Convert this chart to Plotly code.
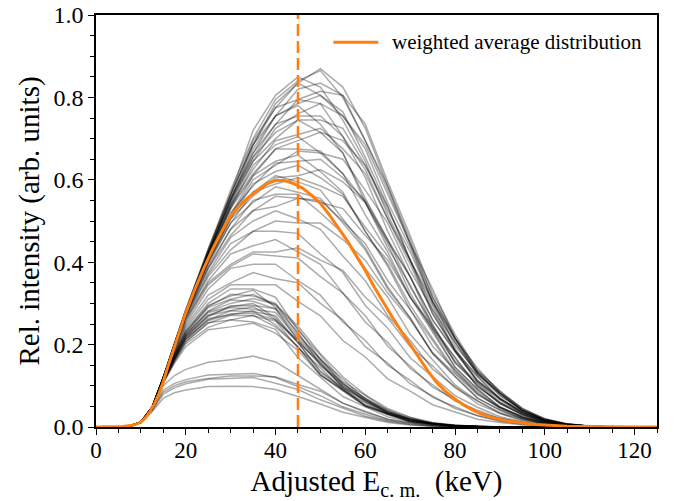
import plotly.graph_objects as go

# energy grid (keV) for the individual distributions
E_GRID = [0, 5, 7.5, 10, 12.5, 15, 17.5, 20, 25, 30, 35, 40, 45, 50, 55, 60, 65, 70, 75, 80, 85, 90, 95, 100,
          105, 110, 115, 120, 125]

# upper group of individual distributions
U1 = [0, 0, 0.002, 0.012, 0.048, 0.12, 0.2, 0.28, 0.43, 0.575, 0.70, 0.795, 0.84, 0.865, 0.80, 0.695, 0.575, 0.445, 0.30, 0.205, 0.128, 0.082, 0.04, 0.016, 0.006, 0.002, 0, 0, 0]
U2 = [0, 0, 0.002, 0.012, 0.049, 0.121, 0.204, 0.285, 0.432, 0.565, 0.72, 0.805, 0.85, 0.825, 0.745, 0.645, 0.515, 0.405, 0.275, 0.185, 0.108, 0.066, 0.032, 0.013, 0.005, 0.001, 0, 0, 0]
U3 = [0, 0, 0.002, 0.011, 0.047, 0.118, 0.2, 0.28, 0.425, 0.56, 0.695, 0.775, 0.835, 0.805, 0.765, 0.655, 0.535, 0.405, 0.295, 0.185, 0.122, 0.068, 0.036, 0.015, 0.005, 0.002, 0, 0, 0]
U4 = [0, 0, 0.002, 0.012, 0.048, 0.12, 0.201, 0.28, 0.42, 0.555, 0.665, 0.755, 0.785, 0.805, 0.755, 0.675, 0.545, 0.435, 0.305, 0.215, 0.13, 0.082, 0.04, 0.018, 0.007, 0.002, 0, 0, 0]
U5 = [0, 0, 0.002, 0.012, 0.048, 0.121, 0.203, 0.283, 0.425, 0.55, 0.685, 0.755, 0.78, 0.735, 0.665, 0.545, 0.445, 0.325, 0.235, 0.145, 0.092, 0.048, 0.026, 0.01, 0.004, 0.001, 0, 0, 0]
U6 = [0, 0, 0.002, 0.011, 0.047, 0.119, 0.2, 0.279, 0.42, 0.555, 0.655, 0.735, 0.755, 0.755, 0.705, 0.625, 0.505, 0.395, 0.275, 0.19, 0.112, 0.07, 0.035, 0.015, 0.006, 0.002, 0, 0, 0]
U7 = [0, 0, 0.002, 0.012, 0.048, 0.12, 0.201, 0.28, 0.42, 0.54, 0.655, 0.715, 0.745, 0.715, 0.665, 0.555, 0.455, 0.34, 0.25, 0.155, 0.103, 0.056, 0.031, 0.012, 0.004, 0.001, 0, 0, 0]
U8 = [0, 0, 0.002, 0.011, 0.047, 0.118, 0.198, 0.276, 0.415, 0.54, 0.625, 0.695, 0.71, 0.725, 0.675, 0.615, 0.505, 0.405, 0.285, 0.205, 0.127, 0.077, 0.039, 0.018, 0.007, 0.002, 0, 0, 0]
U9 = [0, 0, 0.002, 0.012, 0.048, 0.12, 0.2, 0.28, 0.415, 0.53, 0.635, 0.685, 0.705, 0.665, 0.615, 0.515, 0.425, 0.315, 0.23, 0.145, 0.092, 0.049, 0.025, 0.01, 0.004, 0.001, 0, 0, 0]
U10 = [0, 0, 0.002, 0.012, 0.047, 0.119, 0.199, 0.278, 0.41, 0.535, 0.615, 0.675, 0.675, 0.67, 0.615, 0.545, 0.435, 0.345, 0.24, 0.168, 0.098, 0.059, 0.03, 0.012, 0.005, 0.001, 0, 0, 0]
U11 = [0, 0, 0.002, 0.011, 0.048, 0.12, 0.2, 0.279, 0.41, 0.515, 0.61, 0.645, 0.66, 0.62, 0.57, 0.475, 0.39, 0.285, 0.21, 0.132, 0.082, 0.044, 0.022, 0.009, 0.003, 0.001, 0, 0, 0]
U12 = [0, 0, 0.002, 0.012, 0.047, 0.118, 0.197, 0.275, 0.405, 0.52, 0.585, 0.64, 0.645, 0.65, 0.605, 0.55, 0.455, 0.365, 0.26, 0.183, 0.113, 0.068, 0.035, 0.015, 0.006, 0.002, 0, 0, 0]
U13 = [0, 0, 0.002, 0.012, 0.048, 0.12, 0.199, 0.277, 0.405, 0.505, 0.59, 0.62, 0.635, 0.605, 0.565, 0.475, 0.395, 0.295, 0.215, 0.137, 0.087, 0.047, 0.024, 0.01, 0.004, 0.001, 0, 0, 0]
U14 = [0, 0, 0.002, 0.011, 0.047, 0.119, 0.198, 0.276, 0.40, 0.51, 0.57, 0.61, 0.595, 0.575, 0.505, 0.435, 0.34, 0.265, 0.177, 0.122, 0.07, 0.041, 0.02, 0.008, 0.003, 0.001, 0, 0, 0]
U15 = [0, 0, 0.002, 0.012, 0.047, 0.118, 0.197, 0.274, 0.40, 0.495, 0.57, 0.59, 0.605, 0.585, 0.56, 0.485, 0.415, 0.315, 0.238, 0.157, 0.102, 0.057, 0.03, 0.012, 0.005, 0.001, 0, 0, 0]
U16 = [0, 0, 0.002, 0.011, 0.048, 0.12, 0.198, 0.275, 0.395, 0.495, 0.545, 0.583, 0.57, 0.555, 0.495, 0.43, 0.335, 0.265, 0.18, 0.123, 0.07, 0.041, 0.02, 0.008, 0.003, 0.001, 0, 0, 0]
U17 = [0, 0, 0.002, 0.012, 0.047, 0.119, 0.197, 0.274, 0.39, 0.48, 0.55, 0.565, 0.565, 0.52, 0.47, 0.385, 0.315, 0.225, 0.163, 0.102, 0.063, 0.033, 0.017, 0.007, 0.002, 0, 0, 0, 0]
U18 = [0, 0, 0.002, 0.011, 0.046, 0.117, 0.194, 0.27, 0.385, 0.48, 0.525, 0.56, 0.555, 0.55, 0.5, 0.445, 0.355, 0.285, 0.196, 0.138, 0.081, 0.048, 0.024, 0.01, 0.004, 0.001, 0, 0, 0]
U19 = [0, 0, 0.002, 0.011, 0.047, 0.118, 0.199, 0.278, 0.42, 0.55, 0.675, 0.755, 0.82, 0.835, 0.805, 0.695, 0.585, 0.445, 0.335, 0.215, 0.143, 0.083, 0.046, 0.018, 0.007, 0.002, 0, 0, 0]
U20 = [0, 0, 0.002, 0.012, 0.048, 0.12, 0.202, 0.282, 0.425, 0.565, 0.685, 0.785, 0.835, 0.87, 0.825, 0.725, 0.585, 0.455, 0.315, 0.215, 0.132, 0.081, 0.04, 0.016, 0.006, 0.002, 0, 0, 0]
U21 = [0, 0, 0.002, 0.011, 0.047, 0.118, 0.199, 0.278, 0.42, 0.545, 0.665, 0.735, 0.795, 0.815, 0.805, 0.735, 0.595, 0.465, 0.325, 0.225, 0.137, 0.087, 0.044, 0.02, 0.008, 0.003, 0, 0, 0]
U22 = [0, 0, 0.002, 0.012, 0.048, 0.119, 0.2, 0.279, 0.42, 0.55, 0.645, 0.725, 0.76, 0.785, 0.755, 0.685, 0.565, 0.445, 0.315, 0.218, 0.137, 0.087, 0.044, 0.02, 0.007, 0.002, 0, 0, 0]
U23 = [0, 0, 0.002, 0.011, 0.047, 0.118, 0.198, 0.277, 0.415, 0.535, 0.645, 0.70, 0.745, 0.745, 0.725, 0.635, 0.535, 0.405, 0.305, 0.197, 0.133, 0.076, 0.041, 0.017, 0.006, 0.002, 0, 0, 0]
U24 = [0, 0, 0.002, 0.012, 0.047, 0.118, 0.197, 0.276, 0.41, 0.53, 0.61, 0.675, 0.695, 0.715, 0.695, 0.635, 0.525, 0.425, 0.305, 0.213, 0.132, 0.082, 0.041, 0.018, 0.007, 0.002, 0, 0, 0]
U25 = [0, 0, 0.002, 0.011, 0.047, 0.118, 0.197, 0.275, 0.405, 0.51, 0.6, 0.635, 0.67, 0.665, 0.65, 0.575, 0.495, 0.38, 0.285, 0.187, 0.123, 0.068, 0.038, 0.016, 0.006, 0.002, 0, 0, 0]
U26 = [0, 0, 0.002, 0.012, 0.047, 0.118, 0.196, 0.274, 0.40, 0.505, 0.56, 0.605, 0.61, 0.625, 0.595, 0.545, 0.45, 0.365, 0.26, 0.183, 0.112, 0.07, 0.034, 0.015, 0.005, 0.002, 0, 0, 0]
U27 = [0, 0, 0.002, 0.012, 0.048, 0.121, 0.203, 0.284, 0.43, 0.565, 0.685, 0.775, 0.795, 0.785, 0.705, 0.605, 0.475, 0.365, 0.245, 0.168, 0.098, 0.059, 0.029, 0.012, 0.004, 0.001, 0, 0, 0]
U28 = [0, 0, 0.002, 0.011, 0.046, 0.117, 0.194, 0.271, 0.385, 0.465, 0.525, 0.535, 0.555, 0.545, 0.53, 0.465, 0.405, 0.315, 0.245, 0.16, 0.108, 0.06, 0.034, 0.014, 0.005, 0.002, 0, 0, 0]

# middle group
M1 = [0, 0, 0.002, 0.012, 0.047, 0.118, 0.196, 0.27, 0.375, 0.46, 0.5, 0.525, 0.505, 0.48, 0.415, 0.355, 0.27, 0.21, 0.14, 0.097, 0.056, 0.033, 0.015, 0.006, 0.002, 0, 0, 0, 0]
M2 = [0, 0, 0.002, 0.011, 0.046, 0.117, 0.192, 0.265, 0.365, 0.43, 0.475, 0.475, 0.47, 0.42, 0.375, 0.295, 0.24, 0.168, 0.123, 0.076, 0.048, 0.025, 0.013, 0.005, 0.002, 0, 0, 0, 0]
M3 = [0, 0, 0.002, 0.012, 0.046, 0.117, 0.19, 0.26, 0.355, 0.42, 0.44, 0.455, 0.425, 0.395, 0.325, 0.27, 0.196, 0.148, 0.097, 0.066, 0.037, 0.021, 0.01, 0.004, 0.001, 0, 0, 0, 0]
M4 = [0, 0, 0.002, 0.011, 0.046, 0.116, 0.187, 0.255, 0.345, 0.39, 0.42, 0.415, 0.41, 0.365, 0.325, 0.255, 0.205, 0.142, 0.103, 0.063, 0.041, 0.021, 0.011, 0.004, 0.001, 0, 0, 0, 0]
M5 = [0, 0, 0.002, 0.012, 0.046, 0.116, 0.184, 0.25, 0.335, 0.385, 0.395, 0.395, 0.355, 0.32, 0.255, 0.21, 0.15, 0.113, 0.072, 0.049, 0.027, 0.015, 0.007, 0.003, 0.001, 0, 0, 0, 0]
M6 = [0, 0, 0.002, 0.011, 0.045, 0.115, 0.181, 0.245, 0.32, 0.35, 0.375, 0.36, 0.35, 0.30, 0.26, 0.195, 0.155, 0.105, 0.075, 0.045, 0.028, 0.014, 0.007, 0.003, 0.001, 0, 0, 0, 0]
M7 = [0, 0, 0.002, 0.012, 0.045, 0.115, 0.178, 0.24, 0.31, 0.345, 0.345, 0.345, 0.305, 0.27, 0.21, 0.17, 0.117, 0.087, 0.054, 0.036, 0.019, 0.011, 0.005, 0.002, 0, 0, 0, 0, 0]
M8 = [0, 0, 0.002, 0.012, 0.047, 0.118, 0.195, 0.268, 0.37, 0.445, 0.475, 0.50, 0.495, 0.495, 0.455, 0.405, 0.325, 0.26, 0.18, 0.128, 0.078, 0.047, 0.023, 0.01, 0.004, 0.001, 0, 0, 0]
M9 = [0, 0, 0.002, 0.011, 0.046, 0.117, 0.19, 0.262, 0.35, 0.395, 0.425, 0.425, 0.435, 0.405, 0.38, 0.315, 0.265, 0.195, 0.148, 0.095, 0.064, 0.035, 0.02, 0.008, 0.003, 0, 0, 0, 0]

# dense band around 0.3
B1 = [0, 0, 0.002, 0.012, 0.046, 0.114, 0.178, 0.235, 0.30, 0.335, 0.335, 0.315, 0.235, 0.175, 0.11, 0.077, 0.04, 0.023, 0.009, 0.005, 0.001, 0, 0, 0, 0, 0, 0, 0, 0]
B2 = [0, 0, 0.002, 0.011, 0.046, 0.113, 0.176, 0.232, 0.295, 0.318, 0.332, 0.29, 0.23, 0.15, 0.107, 0.06, 0.038, 0.016, 0.009, 0.003, 0.001, 0, 0, 0, 0, 0, 0, 0, 0]
B3 = [0, 0, 0.002, 0.012, 0.045, 0.113, 0.174, 0.228, 0.29, 0.31, 0.322, 0.295, 0.24, 0.163, 0.117, 0.066, 0.042, 0.018, 0.01, 0.003, 0.001, 0, 0, 0, 0, 0, 0, 0, 0]
B4 = [0, 0, 0.002, 0.011, 0.045, 0.112, 0.172, 0.225, 0.282, 0.308, 0.305, 0.287, 0.21, 0.155, 0.095, 0.064, 0.032, 0.018, 0.007, 0.003, 0.001, 0, 0, 0, 0, 0, 0, 0, 0]
B5 = [0, 0, 0.002, 0.012, 0.045, 0.112, 0.17, 0.222, 0.278, 0.292, 0.30, 0.265, 0.205, 0.133, 0.093, 0.052, 0.032, 0.014, 0.008, 0.002, 0.001, 0, 0, 0, 0, 0, 0, 0, 0]
B6 = [0, 0, 0.002, 0.011, 0.045, 0.111, 0.168, 0.218, 0.268, 0.294, 0.295, 0.287, 0.22, 0.166, 0.104, 0.071, 0.036, 0.021, 0.008, 0.004, 0.001, 0, 0, 0, 0, 0, 0, 0, 0]
B7 = [0, 0, 0.002, 0.012, 0.045, 0.111, 0.167, 0.218, 0.27, 0.283, 0.292, 0.26, 0.205, 0.136, 0.095, 0.054, 0.034, 0.015, 0.008, 0.002, 0.001, 0, 0, 0, 0, 0, 0, 0, 0]
B8 = [0, 0, 0.002, 0.011, 0.044, 0.11, 0.165, 0.214, 0.26, 0.282, 0.28, 0.27, 0.205, 0.156, 0.096, 0.066, 0.033, 0.019, 0.007, 0.003, 0.001, 0, 0, 0, 0, 0, 0, 0, 0]
B9 = [0, 0, 0.002, 0.012, 0.044, 0.11, 0.165, 0.213, 0.263, 0.272, 0.282, 0.248, 0.195, 0.126, 0.088, 0.05, 0.031, 0.013, 0.007, 0.002, 0.001, 0, 0, 0, 0, 0, 0, 0, 0]
B10 = [0, 0, 0.002, 0.011, 0.044, 0.109, 0.162, 0.208, 0.252, 0.271, 0.27, 0.257, 0.192, 0.144, 0.089, 0.06, 0.03, 0.016, 0.006, 0.003, 0.001, 0, 0, 0, 0, 0, 0, 0, 0]
B11 = [0, 0, 0.002, 0.011, 0.044, 0.109, 0.161, 0.206, 0.253, 0.26, 0.271, 0.243, 0.195, 0.128, 0.09, 0.051, 0.031, 0.013, 0.007, 0.002, 0.001, 0, 0, 0, 0, 0, 0, 0, 0]
B12 = [0, 0, 0.002, 0.012, 0.044, 0.108, 0.158, 0.202, 0.242, 0.26, 0.255, 0.237, 0.168, 0.121, 0.074, 0.049, 0.025, 0.013, 0.005, 0.002, 0.001, 0, 0, 0, 0, 0, 0, 0, 0]
B13 = [0, 0, 0.002, 0.011, 0.043, 0.107, 0.155, 0.195, 0.236, 0.243, 0.252, 0.228, 0.186, 0.126, 0.09, 0.052, 0.033, 0.014, 0.008, 0.003, 0.001, 0, 0, 0, 0, 0, 0, 0, 0]
B14 = [0, 0, 0.002, 0.012, 0.045, 0.113, 0.175, 0.23, 0.292, 0.322, 0.318, 0.30, 0.225, 0.165, 0.105, 0.07, 0.037, 0.02, 0.009, 0.003, 0.001, 0, 0, 0, 0, 0, 0, 0, 0]
B15 = [0, 0, 0.002, 0.011, 0.045, 0.111, 0.168, 0.22, 0.272, 0.29, 0.286, 0.278, 0.215, 0.16, 0.10, 0.066, 0.034, 0.019, 0.008, 0.003, 0.001, 0, 0, 0, 0, 0, 0, 0, 0]
B16 = [0, 0, 0.002, 0.011, 0.045, 0.112, 0.171, 0.224, 0.28, 0.30, 0.312, 0.298, 0.245, 0.178, 0.122, 0.078, 0.045, 0.024, 0.011, 0.004, 0.001, 0, 0, 0, 0, 0, 0, 0, 0]
B17 = [0, 0, 0.002, 0.012, 0.044, 0.11, 0.164, 0.212, 0.258, 0.275, 0.276, 0.26, 0.21, 0.15, 0.10, 0.064, 0.036, 0.019, 0.009, 0.003, 0.001, 0, 0, 0, 0, 0, 0, 0, 0]

# low group
L1 = [0, 0, 0.002, 0.012, 0.044, 0.10, 0.125, 0.14, 0.157, 0.163, 0.172, 0.158, 0.125, 0.092, 0.058, 0.036, 0.019, 0.01, 0.004, 0.001, 0, 0, 0, 0, 0, 0, 0, 0, 0]
L2 = [0, 0, 0.002, 0.012, 0.042, 0.09, 0.106, 0.115, 0.126, 0.128, 0.13, 0.12, 0.098, 0.076, 0.049, 0.031, 0.015, 0.008, 0.003, 0.001, 0, 0, 0, 0, 0, 0, 0, 0, 0]
L3 = [0, 0, 0.002, 0.011, 0.041, 0.085, 0.10, 0.11, 0.118, 0.124, 0.124, 0.122, 0.103, 0.087, 0.058, 0.039, 0.019, 0.01, 0.004, 0.001, 0, 0, 0, 0, 0, 0, 0, 0, 0]
L4 = [0, 0, 0.002, 0.011, 0.04, 0.08, 0.095, 0.105, 0.116, 0.118, 0.12, 0.106, 0.091, 0.066, 0.046, 0.026, 0.014, 0.006, 0.002, 0.001, 0, 0, 0, 0, 0, 0, 0, 0, 0]
L5 = [0, 0, 0.002, 0.01, 0.037, 0.07, 0.083, 0.09, 0.098, 0.099, 0.098, 0.091, 0.074, 0.056, 0.036, 0.023, 0.011, 0.005, 0.002, 0.001, 0, 0, 0, 0, 0, 0, 0, 0, 0]

INDIVIDUAL = [U1, U2, U3, U4, U5, U6, U7, U8, U9, U10, U11, U12, U13, U14, U15, U16, U17, U18, U19, U20,
              U21, U22, U23, U24, U25, U26, U27, U28,
              M1, M2, M3, M4, M5, M6, M7, M8, M9,
              B1, B2, B3, B4, B5, B6, B7, B8, B9, B10, B11, B12, B13, B14, B15, B16, B17,
              L1, L2, L3, L4, L5]

# weighted average distribution
AVG_E = [0, 4, 6, 8, 9, 10, 11, 12, 13, 14, 15, 16, 17, 18, 19, 20, 22, 24, 26, 28, 30, 31, 32, 34, 36, 38, 40,
         42, 44, 46, 48, 50, 52, 54, 56, 58, 60, 62, 64, 66, 68, 70, 72, 74, 76, 78, 80, 82, 84, 86, 88, 90,
         92, 94, 96, 98, 100, 105, 110, 115, 120, 125]
AVG_I = [0, 0, 0.001, 0.004, 0.007, 0.012, 0.022, 0.037, 0.056, 0.08, 0.11, 0.146, 0.18, 0.212, 0.245, 0.277,
         0.333, 0.385, 0.432, 0.474, 0.512, 0.525, 0.537, 0.558, 0.575, 0.59, 0.598,
         0.598, 0.591, 0.58, 0.563, 0.543, 0.515, 0.482, 0.452, 0.415, 0.38, 0.34, 0.302, 0.267, 0.233, 0.20,
         0.166, 0.135, 0.107, 0.085, 0.068, 0.053, 0.041, 0.031, 0.024, 0.018, 0.014, 0.011, 0.008, 0.006,
         0.005, 0.002, 0.001, 0, 0, 0]

CUT_E = 45
X_TICKS = [0, 20, 40, 60, 80, 100, 120]
Y_TICKS = [0.0, 0.2, 0.4, 0.6, 0.8, 1.0]
LEGEND_TEXT = "weighted average distribution"

FONT = "Liberation Serif"
ORANGE = "#ff7f0e"

fig = go.Figure()
for series in INDIVIDUAL:
    fig.add_trace(go.Scatter(x=E_GRID[:len(series)], y=series, mode="lines",
                             line=dict(color="rgba(0,0,0,0.33)", width=1.5),
                             showlegend=False, hoverinfo="skip"))

fig.add_trace(go.Scatter(x=AVG_E, y=AVG_I, mode="lines",
                         line=dict(color=ORANGE, width=3),
                         name=LEGEND_TEXT, showlegend=False))

fig.add_shape(type="line", x0=CUT_E, x1=CUT_E, y0=0, y1=1, xref="x", yref="y",
              line=dict(color=ORANGE, width=2.5, dash="12px,5px"))

# legend drawn in the upper right of the axes
fig.add_shape(type="line", x0=52.9, x1=62.9, y0=0.934, y1=0.934, xref="x", yref="y",
              line=dict(color=ORANGE, width=3))
fig.add_annotation(x=65.6, y=0.934, xref="x", yref="y", text=LEGEND_TEXT, showarrow=False,
                   xanchor="left", yanchor="middle",
                   font=dict(family=FONT, size=21, color="black"))

axis_common = dict(showline=True, linecolor="black", linewidth=1.5, mirror=True,
                   ticks="outside", ticklen=6, tickwidth=1.3, tickcolor="black",
                   showgrid=False, zeroline=False)

fig.update_xaxes(range=[0, 125], tickvals=X_TICKS,
                 tickfont=dict(family=FONT, size=23, color="black"),
                 ticklabelstandoff=-4,
                 minor=dict(dtick=5, ticks="outside", ticklen=4, tickwidth=1, tickcolor="black"),
                 title=dict(text="Adjusted E<sub>c. m.</sub>  (keV)", standoff=14,
                            font=dict(family=FONT, size=29, color="black")),
                 **axis_common)
fig.update_yaxes(range=[0, 1.0], tickvals=Y_TICKS, tickformat=".1f",
                 tickfont=dict(family=FONT, size=24, color="black"),
                 minor=dict(dtick=0.05, ticks="outside", ticklen=4, tickwidth=1, tickcolor="black"),
                 title=dict(text="Rel. intensity (arb. units)", standoff=5,
                            font=dict(family=FONT, size=29, color="black")),
                 **axis_common)

fig.update_layout(
    width=678, height=501,
    margin=dict(l=96, r=21, t=15, b=74, autoexpand=False),
    paper_bgcolor="white", plot_bgcolor="white",
    showlegend=False,
)

fig.write_html("out.html", config={"displayModeBar": False},
               post_script="document.body.style.margin='0';document.body.style.overflow='hidden';")
